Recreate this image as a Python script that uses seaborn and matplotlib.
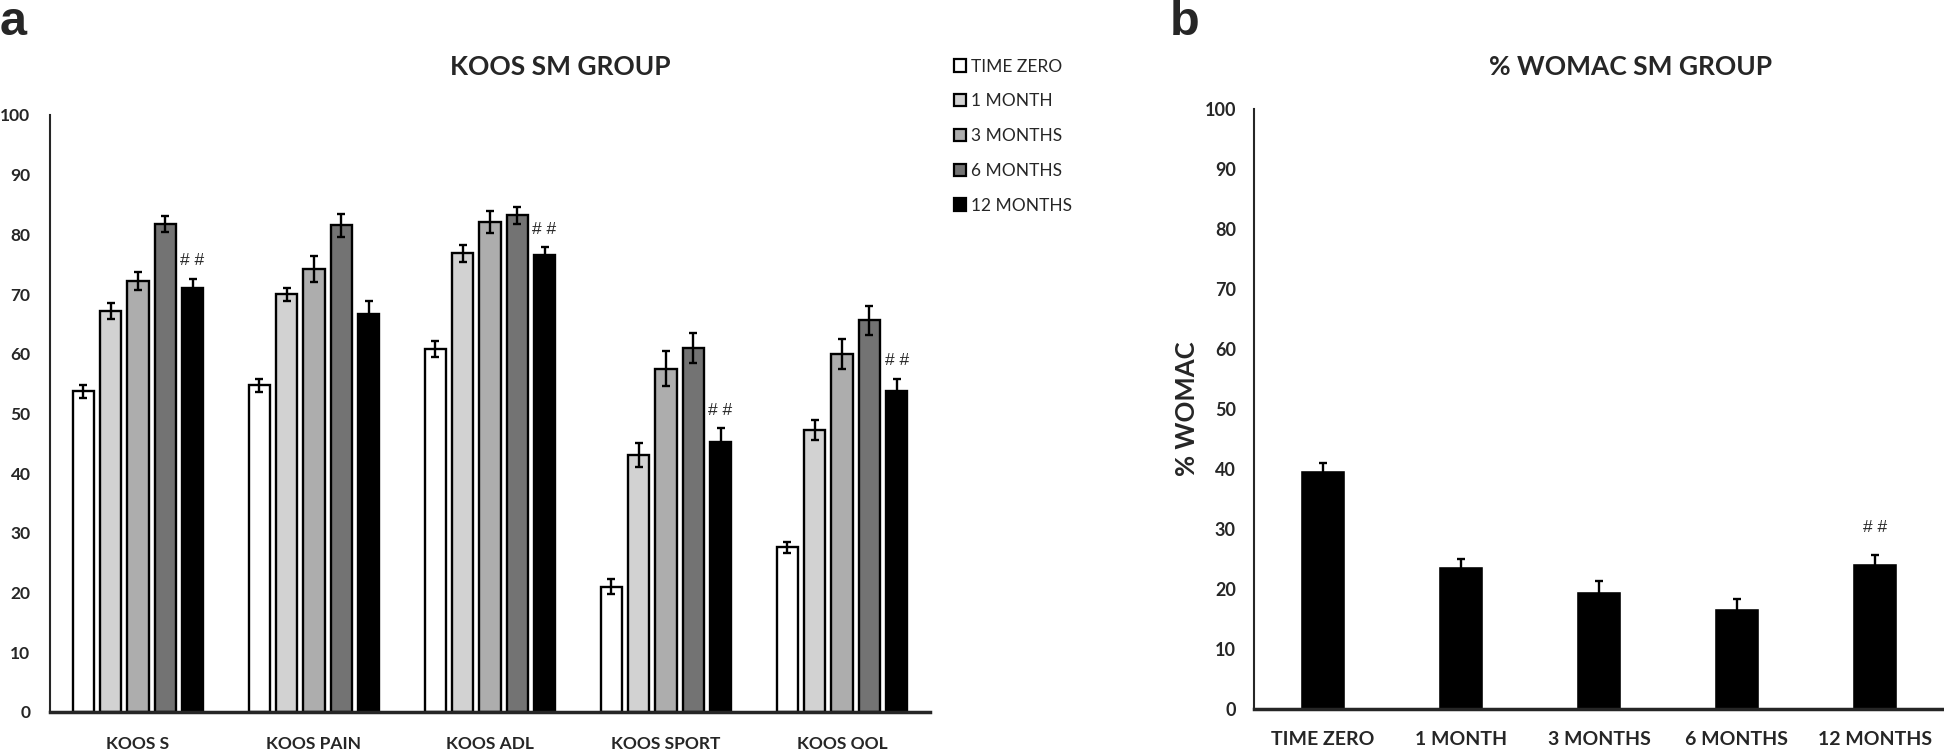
import numpy as np
import pandas as pd
import matplotlib
matplotlib.use('Agg')
import matplotlib.pyplot as plt
import seaborn as sns
from matplotlib.patches import Patch

# ---- data ----
subscales = ['KOOS S', 'KOOS PAIN', 'KOOS ADL', 'KOOS SPORT', 'KOOS QOL']
timepoints = ['TIME ZERO', '1 MONTH', '3 MONTHS', '6 MONTHS', '12 MONTHS']

koos_time_zero = [53.7, 54.7, 60.8, 21.0, 27.6]
koos_1_month = [67.2, 70.0, 76.8, 43.1, 47.2]
koos_3_months = [72.2, 74.2, 82.1, 57.5, 59.9]
koos_6_months = [81.7, 81.5, 83.2, 60.9, 65.6]
koos_12_months = [71.1, 66.7, 76.5, 45.2, 53.8]

koos_err_time_zero = [1.1, 1.1, 1.3, 1.2, 0.9]
koos_err_1_month = [1.3, 1.1, 1.5, 2.0, 1.7]
koos_err_3_months = [1.5, 2.2, 1.8, 2.9, 2.5]
koos_err_6_months = [1.3, 1.9, 1.4, 2.5, 2.4]
koos_err_12_months = [1.5, 2.2, 1.4, 2.3, 2.0]

# significance marks above the 12 month bars
koos_marks = ['# #', '', '# #', '# #', '# #']

womac = [39.9, 23.9, 19.7, 16.9, 24.4]
womac_err = [1.1, 1.1, 1.6, 1.4, 1.3]
womac_marks = ['', '', '', '', '# #']

bar_colors = ['#ffffff', '#d2d2d2', '#adadad', '#737373', '#000000']

# ---- style ----
sns.set_theme(style='white')
plt.rcParams['font.family'] = ['Lato', 'DejaVu Sans']
plt.rcParams['axes.linewidth'] = 1.5

koos_values = [koos_time_zero, koos_1_month, koos_3_months, koos_6_months, koos_12_months]
koos_errors = [koos_err_time_zero, koos_err_1_month, koos_err_3_months,
               koos_err_6_months, koos_err_12_months]

koos_df = pd.DataFrame({
    'subscale': subscales * len(timepoints),
    'time': [t for t in timepoints for _ in subscales],
    'score': np.concatenate(koos_values),
})
womac_df = pd.DataFrame({'time': timepoints, 'womac': womac})

fig = plt.figure(figsize=(19.44, 7.49), dpi=100)
ax_a = fig.add_axes([0.0257, 0.0494, 0.4527, 0.7971])
ax_b = fig.add_axes([0.645, 0.0534, 0.355, 0.8011])

# ---- panel a: KOOS ----
sns.barplot(data=koos_df, x='subscale', y='score', hue='time',
            palette=bar_colors, width=0.775, gap=0.22,
            edgecolor='black', linewidth=1.7, errorbar=None,
            ax=ax_a)
bar_groups = list(ax_a.containers)

for container, errs in zip(bar_groups, koos_errors):
    xs = [b.get_x() + b.get_width() / 2 for b in container]
    hs = [b.get_height() for b in container]
    ax_a.errorbar(xs, hs, yerr=errs, fmt='none', ecolor='black',
                  elinewidth=1.7, capsize=2.8, capthick=1.7, zorder=5)

for b, err, mark in zip(bar_groups[-1], koos_err_12_months, koos_marks):
    if mark:
        ax_a.text(b.get_x() + b.get_width() / 2, b.get_height() + err + 3.0, mark,
                  ha='center', va='center', fontsize=12.5,
                  family=['Liberation Sans', 'DejaVu Sans'])

ax_a.set_xlim(-0.5, 4.5)
ax_a.set_ylim(0, 100)
ax_a.set_yticks(range(0, 101, 10))
ax_a.set_xlabel('')
ax_a.set_ylabel('')
ax_a.tick_params(axis='both', length=0)
ax_a.tick_params(axis='y', labelsize=12.5, pad=14)
ax_a.tick_params(axis='x', labelsize=12.5, pad=17)
for lab in ax_a.get_xticklabels() + ax_a.get_yticklabels():
    lab.set_fontweight('bold')
sns.despine(ax=ax_a)
ax_a.spines['bottom'].set_linewidth(2.5)

handles = [Patch(facecolor=c, edgecolor='black', linewidth=1.6) for c in bar_colors]
ax_a.legend(handles, timepoints, loc='upper left', bbox_to_anchor=(0.487, 0.931),
            bbox_transform=fig.transFigure, frameon=False, fontsize=12.5,
            handlelength=0.72, handleheight=0.72, handletextpad=0.3,
            labelspacing=1.08, borderaxespad=0)

fig.text(0.288, 0.91, 'KOOS SM GROUP', ha='center', va='center',
         fontsize=19, fontweight='bold')

# ---- panel b: WOMAC ----
sns.barplot(data=womac_df, x='time', y='womac', color='black',
            width=0.326, errorbar=None, ax=ax_b)
bars = list(ax_b.containers[0])
xs = [b.get_x() + b.get_width() / 2 for b in bars]
hs = [b.get_height() for b in bars]
ax_b.errorbar(xs, hs, yerr=womac_err, fmt='none', ecolor='black',
              elinewidth=1.7, capsize=2.8, capthick=1.7, zorder=5)
for x, h, err, mark in zip(xs, hs, womac_err, womac_marks):
    if mark:
        ax_b.text(x, h + err + 4.6, mark, ha='center', va='center',
                  fontsize=12.5, family=['Liberation Sans', 'DejaVu Sans'])

ax_b.set_xlim(-0.5, 4.5)
ax_b.set_ylim(0, 100)
ax_b.set_yticks(range(0, 101, 10))
ax_b.set_xlabel('')
ax_b.set_ylabel('% WOMAC', fontsize=18.5, fontweight='bold')
ax_b.yaxis.set_label_coords(-0.08, 0.5)
ax_b.tick_params(axis='both', length=0)
ax_b.tick_params(axis='y', labelsize=13, pad=13)
ax_b.tick_params(axis='x', labelsize=14, pad=16)
for lab in ax_b.get_xticklabels() + ax_b.get_yticklabels():
    lab.set_fontweight('bold')
sns.despine(ax=ax_b)
ax_b.spines['bottom'].set_linewidth(2.5)

fig.text(0.8387, 0.91, '% WOMAC SM GROUP', ha='center', va='center',
         fontsize=19, fontweight='bold')

# panel letters
fig.text(0.0, 1.0, 'a', ha='left', va='top', fontsize=35, fontweight='bold',
         family=['Liberation Sans', 'DejaVu Sans'])
fig.text(0.602, 1.0, 'b', ha='left', va='top', fontsize=35, fontweight='bold',
         family=['Liberation Sans', 'DejaVu Sans'])

fig.savefig('out.png', dpi=100)
